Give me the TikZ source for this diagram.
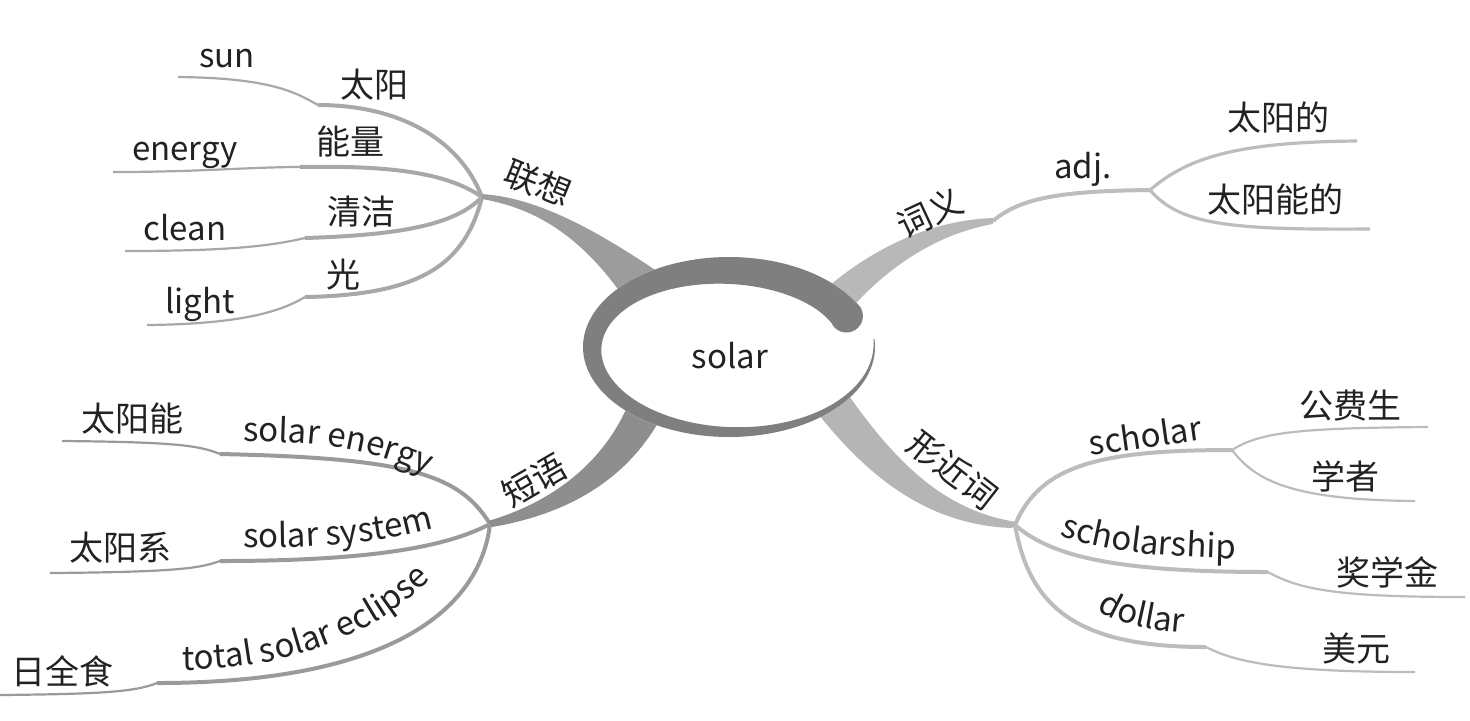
\documentclass[tikz,border=0pt]{standalone}
\usepackage{fontspec}
\setmainfont{Noto Sans CJK SC}
\usetikzlibrary{decorations.text}
\definecolor{txt}{HTML}{222222}
\definecolor{ringc}{HTML}{7F7F7F}
\definecolor{brA}{HTML}{9C9C9C}
\definecolor{subA}{HTML}{A8A8A8}
\definecolor{brB}{HTML}{B8B8B8}
\definecolor{subB}{HTML}{BDBDBD}
\definecolor{brC}{HTML}{8E8E8E}
\definecolor{subC}{HTML}{9A9A9A}
\definecolor{brD}{HTML}{B5B5B5}
\definecolor{subD}{HTML}{BCBCBC}
\newcommand\labfont{\fontsize{17}{20}\selectfont}
\newcommand\latfont{\fontsize{16.5}{20}\selectfont}
\begin{document}
\begin{tikzpicture}[x=0.5pt,y=-0.5pt,
  lab/.style={font=\labfont, text=txt, inner sep=0pt},
  lat/.style={font=\latfont, text=txt, inner sep=0pt},
  innerseg/.style={line width=2pt},
  outerseg/.style={line width=1.1pt},
  midseg/.style={line width=1.6pt},
  curvetext/.style={decorate, decoration={text along path, text={|\latfont\color{txt}|#1}, text align=left}}]
\useasboundingbox (0,0) rectangle (1470,720);
\fill[white] (0,0) rectangle (1470,720);

% hubs and joints
\coordinate (h1) at (482,197);
\coordinate (h2) at (993,221);
\coordinate (h3) at (490,524);
\coordinate (h4) at (1015,525);
\coordinate (adjhub) at (1150,190);
\coordinate (schhub) at (1232,450);
\coordinate (k1a) at (318,105);
\coordinate (k1b) at (300,167);
\coordinate (k1c) at (305,238);
\coordinate (k1d) at (305,297);
\coordinate (e1a) at (178,77);
\coordinate (e1b) at (113,172);
\coordinate (e1c) at (125,251);
\coordinate (e1d) at (147,325);
\coordinate (e2a) at (1357,141);
\coordinate (e2b) at (1370,229);
\coordinate (k3a) at (220,454);
\coordinate (k3b) at (220,561);
\coordinate (k3c) at (157,683);
\coordinate (e3a) at (62,441);
\coordinate (e3b) at (50,573);
\coordinate (e3c) at (0,695);
\coordinate (k4b) at (1268,572);
\coordinate (k4c) at (1206,647);
\coordinate (e4a) at (1428,427);
\coordinate (e4b) at (1415,501);
\coordinate (e4c) at (1465,597);
\coordinate (e4d) at (1415,672);

% group 1 sub lines
\draw[subA, innerseg] (h1) .. controls (460,140) and (400,105) .. (k1a);
\draw[subA, outerseg] (k1a) .. controls (295,92) and (270,78) .. (e1a);
\draw[subA, innerseg] (h1) .. controls (450,175) and (400,165) .. (k1b);
\draw[subA, outerseg] (k1b) .. controls (250,167) and (200,172) .. (e1b);
\draw[subA, innerseg] (h1) .. controls (455,225) and (400,235) .. (k1c);
\draw[subA, outerseg] (k1c) .. controls (270,246) and (230,251) .. (e1c);
\draw[subA, innerseg] (h1) .. controls (465,265) and (420,295) .. (k1d);
\draw[subA, outerseg] (k1d) .. controls (280,312) and (240,324) .. (e1d);

% group 2 sub lines
\draw[subB, innerseg] (h2) .. controls (1020,198) and (1060,191) .. (adjhub);
\draw[subB, midseg] (adjhub) .. controls (1185,160) and (1230,142) .. (e2a);
\draw[subB, midseg] (adjhub) .. controls (1180,225) and (1230,230) .. (e2b);

% group 3 sub lines
\draw[subC, innerseg] (h3) .. controls (460,475) and (410,458) .. (k3a);
\draw[subC, outerseg] (k3a) .. controls (200,446) and (180,442) .. (e3a);
\draw[subC, innerseg] (h3) .. controls (450,545) and (380,561) .. (k3b);
\draw[subC, outerseg] (k3b) .. controls (200,568) and (180,572) .. (e3b);
\draw[subC, innerseg] (h3) .. controls (480,610) and (390,683) .. (k3c);
\draw[subC, outerseg] (k3c) .. controls (135,692) and (100,694) .. (e3c);

% group 4 sub lines
\draw[subD, innerseg] (h4) .. controls (1040,465) and (1100,450) .. (schhub);
\draw[subD, outerseg] (schhub) .. controls (1260,432) and (1300,428) .. (e4a);
\draw[subD, outerseg] (schhub) .. controls (1255,480) and (1290,500) .. (e4b);
\draw[subD, innerseg] (h4) .. controls (1050,555) and (1110,572) .. (k4b);
\draw[subD, outerseg] (k4b) .. controls (1300,590) and (1340,597) .. (e4c);
\draw[subD, innerseg] (h4) .. controls (1030,610) and (1080,647) .. (k4c);
\draw[subD, outerseg] (k4c) .. controls (1235,662) and (1280,672) .. (e4d);

% main tapered branches
\fill[brA] (482,194) .. controls (540,198) and (600,232) .. (670,280) -- (634,312) .. controls (590,245) and (545,210) .. (482,199) -- cycle;
\fill[brB] (993,218) .. controls (940,220) and (885,240) .. (830,285) -- (850,310) .. controls (880,275) and (930,235) .. (993,224) -- cycle;
\fill[brC] (488,521) .. controls (560,500) and (610,455) .. (632,395) -- (665,410) .. controls (635,470) and (580,512) .. (492,527) -- cycle;
\fill[brD] (1017,522) .. controls (950,512) and (900,470) .. (845,390) -- (815,410) .. controls (870,480) and (930,525) .. (1012,528) -- cycle;

% centre ellipse
\fill[white] plot[domain=0:360, samples=120] ({729+146*cos(\x)},{347+90*sin(\x)}) -- cycle;
\fill[ringc] plot[domain=-5:335, samples=140] ({729+146*cos(\x)},{347+90*sin(\x)})
  -- plot[domain=335:-5, samples=140] ({729+(145-32*(\x+5)/340)*cos(\x)},{347+(89-32*(\x+5)/340)*sin(\x)}) -- cycle;
\fill[ringc] (846.4,316) circle[radius=8.25pt];
\node[lat, anchor=base] (solar) at (730,368) {solar};

% labels, group 1
\node[lat, anchor=base] (sun) at (227,67) {sun};
\node[lab] (taiyang) at (374,85) {太阳};
\node[lat, anchor=base] (energy) at (185,160) {energy};
\node[lab] (nengliang) at (350,142) {能量};
\node[lat, anchor=base] (clean) at (185,240) {clean};
\node[lab] (qingjie) at (361,212) {清洁};
\node[lat, anchor=base] (light) at (200,313) {light};
\node[lab] (guang) at (343,275) {光};
\node[lab, rotate=-22] (lianxiang) at (538,183) {联想};

% labels, group 2
\node[lab, rotate=25] (ciyi) at (930,213) {词义};
\node[lat, anchor=base] (adj) at (1083,178) {adj.};
\node[lab] (tyd) at (1278,118) {太阳的};
\node[lab] (tynd) at (1275,200) {太阳能的};

% labels, group 3
\node[lab] (tyn) at (132,419) {太阳能};
\node[lab] (tyx) at (120,548) {太阳系};
\node[lab] (rqs) at (62,671) {日全食};
\node[lab, rotate=30] (duanyu) at (534,480) {短语};
\path[curvetext={solar energy}] (243,442) .. controls (320,441) and (380,448) .. (450,486);
\path[curvetext={solar system}] (243,547) .. controls (310,548) and (380,546) .. (455,522);
\path[curvetext={total solar eclipse}] (182,670) .. controls (280,670) and (370,640) .. (432,578);

% labels, group 4
\node[lab, rotate=-38] (xjc) at (953,470) {形近词};
\node[lat, rotate=8] (scholar) at (1145,435) {scholar};
\node[lab] (gfs) at (1350,406) {公费生};
\node[lab] (xz) at (1345,476) {学者};
\node[lab] (jxj) at (1387,572) {奖学金};
\node[lab] (my) at (1356,648) {美元};
\path[curvetext={scholarship}] (1060,535) .. controls (1105,552) and (1160,558) .. (1260,559);
\path[curvetext={dollar}] (1097,610) .. controls (1118,624) and (1150,632) .. (1210,635);
\end{tikzpicture}
\end{document}
